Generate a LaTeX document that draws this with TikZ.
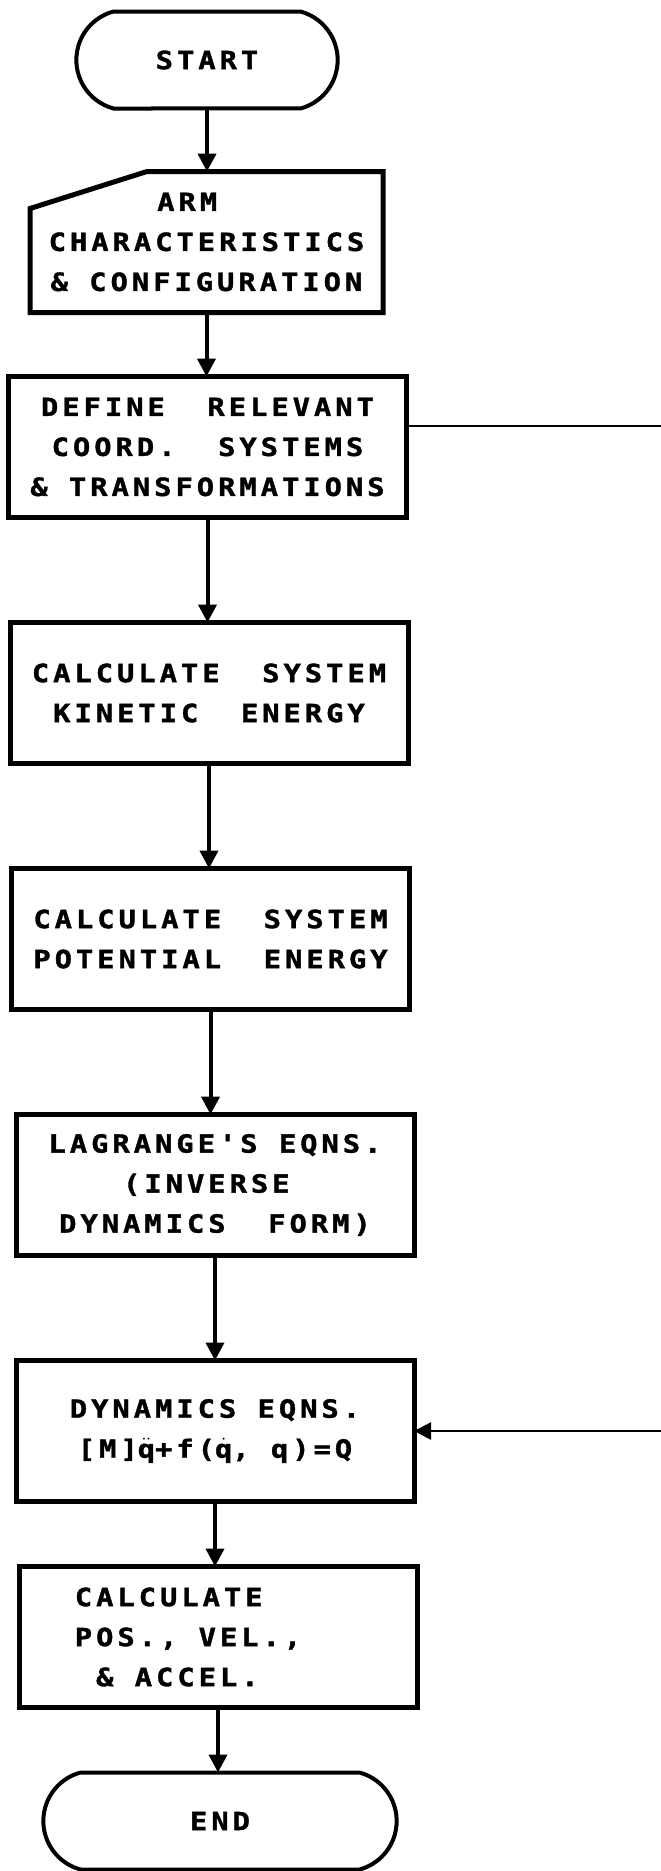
\documentclass[tikz,border=0pt]{standalone}
\usepackage{fontspec}
\usetikzlibrary{positioning,shapes.misc,arrows.meta}
\newfontfamily\plotfam{DejaVu Sans Mono}[FakeStretch=1.15,LetterSpace=16,
  BoldFeatures={FakeBold=1.5}]
\newcommand\plotfont{\plotfam\bfseries\fontsize{25pt}{40pt}\selectfont}
\newcommand\shortgap{64pt}
\newcommand\longgap{105pt}
\newcommand\qdd{\ensuremath{\ddot{\hbox{q}}}}
\newcommand\qd{\ensuremath{\dot{\hbox{q}}}}

\tikzset{
  flowbox/.style={draw, line width=5pt, outer sep=0pt, inner sep=0pt,
    minimum width=398pt, minimum height=141pt, align=center, font=\plotfont},
  termbox/.style={rounded rectangle, rounded rectangle arc length=150, draw,
    line width=4pt, outer sep=0pt, minimum width=268pt, minimum height=97pt,
    font=\plotfont},
  flow/.style={line width=4pt, -{Triangle[width=18pt,length=18pt]}},
  loopline/.style={line width=2.5pt},
}

\begin{document}
\begin{tikzpicture}[x=1pt,y=1pt]
  \useasboundingbox (0,0) rectangle (661,-1871);
  \node[termbox] (start) at (207,-60) {START};
  % input box, outline drawn below
  \node[flowbox, draw=none, minimum width=353pt, below=63pt of start, xshift=-0.5pt] (arm)
    {ARM\hphantom{XX}\\CHARACTERISTICS\\\&~CONFIGURATION};
  \node[flowbox, below=\shortgap of arm, xshift=1pt] (define)
    {DEFINE~~RELEVANT\\COORD.~~SYSTEMS\\\&~TRANSFORMATIONS};
  \node[flowbox, below=\longgap of define, xshift=1.5pt] (kinetic)
    {CALCULATE~~SYSTEM\\KINETIC~~ENERGY};
  \node[flowbox, below=\longgap of kinetic, xshift=1.5pt] (potential)
    {CALCULATE~~SYSTEM\\POTENTIAL~~ENERGY};
  \node[flowbox, below=\longgap of potential, xshift=4.5pt] (lagrange)
    {LAGRANGE'S~EQNS.\\(INVERSE\hphantom{X}\\DYNAMICS~~FORM)};
  \node[flowbox, below=\longgap of lagrange] (dynamics)
    {DYNAMICS~EQNS.\\{[M]}\qdd+f(\qd,~q)=Q};
  \node[flowbox, align=left, below=65pt of dynamics, xshift=3pt] (calc)
    {CALCULATE\\POS.,~VEL.,\hphantom{XXX}\\~\&~ACCEL.};
  \node[termbox, minimum width=360pt, below=65pt of calc, xshift=2pt] (end) {END};

  \draw[line width=5pt] (arm.south west) -- ([yshift=-37pt]arm.north west)
    -- ([xshift=117pt]arm.north west) -- (arm.north east) -- (arm.south east) -- cycle;

  \draw[flow] (start.south) -- (start.south |- arm.north);
  \draw[flow] (arm.south) -- (arm.south |- define.north);
  \draw[flow] (define.south) -- (define.south |- kinetic.north);
  \draw[flow] (kinetic.south) -- (kinetic.south |- potential.north);
  \draw[flow] (potential.south) -- (potential.south |- lagrange.north);
  \draw[flow] (lagrange.south) -- (lagrange.south |- dynamics.north);
  \draw[flow] (dynamics.south) -- (dynamics.south |- calc.north);
  \draw[flow] (calc.south) -- (calc.south |- end.north);

  % loop lines to the right
  \coordinate (out1) at (661,-426);
  \draw[loopline] (out1 -| define.east) -- (out1);
  \coordinate (in1) at (dynamics.east -| out1);
  \draw[loopline, -{Triangle[width=17pt,length=17pt]}] (in1) -- (dynamics.east);
\end{tikzpicture}
\end{document}
